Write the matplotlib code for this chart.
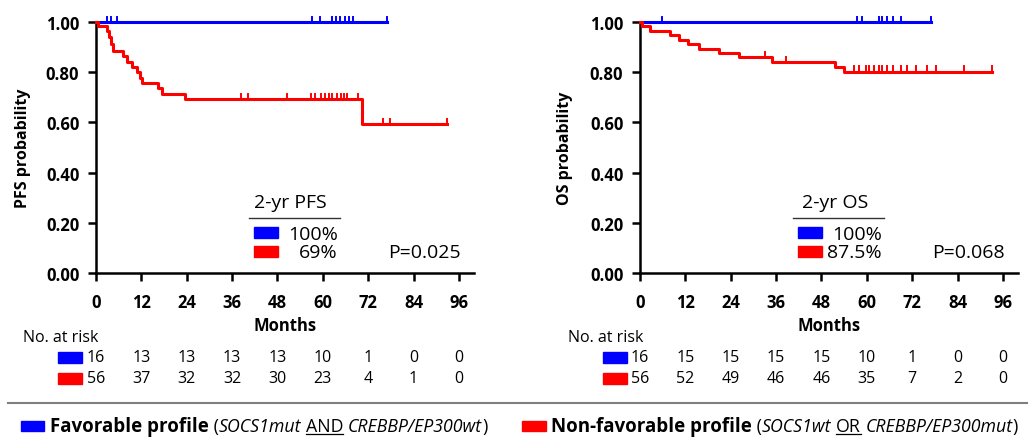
import numpy as np
import matplotlib
matplotlib.use("Agg")
import matplotlib.pyplot as plt
from matplotlib.patches import Rectangle
from matplotlib.lines import Line2D
from matplotlib.transforms import blended_transform_factory

plt.rcParams['font.family'] = ['Open Sans', 'DejaVu Sans']

BLUE = '#0000ff'
RED = '#ff0000'

# ---- data ----
xticks = [0, 12, 24, 36, 48, 60, 72, 84, 96]

# PFS
pfs_fav_t = [0, 76.9]
pfs_fav_s = [1.0, 1.0]
pfs_fav_cens = [3.0, 4.0, 5.5, 57.2, 59.3, 62.5, 63.6, 64.6, 65.9, 66.8, 68.1, 76.9]

pfs_non_t = [0, 0.6, 2.8, 3.4, 4.0, 4.6, 7.2, 8.1, 9.4, 10.8, 11.6, 12.1, 16.5, 17.4, 23.5, 70.3, 92.8]
pfs_non_s = [1.0, 0.982, 0.964, 0.94, 0.91, 0.885, 0.865, 0.84, 0.82, 0.80, 0.775, 0.755, 0.735, 0.713, 0.693, 0.594, 0.594]
pfs_non_cens = [38.4, 40.3, 50.4, 57.0, 58.0, 59.4, 60.7, 61.6, 62.5, 63.8, 64.7, 65.6, 66.5, 69.2,
                76.0, 77.9, 92.8]

# OS
os_fav_t = [0, 77.1]
os_fav_s = [1.0, 1.0]
os_fav_cens = [5.7, 57.5, 58.8, 63.2, 64.1, 65.4, 66.8, 69.0, 77.1]

os_non_t = [0, 0.5, 2.7, 8.0, 10.2, 12.8, 15.5, 20.8, 26.1, 35.0, 51.7, 53.9, 93.0]
os_non_s = [1.0, 0.982, 0.964, 0.946, 0.926, 0.911, 0.893, 0.876, 0.859, 0.841, 0.82, 0.802, 0.802]
os_non_cens = [33.2, 38.5, 56.6, 57.9, 59.7, 60.6, 61.9, 63.2, 64.1, 65.4, 66.8, 69.0, 70.7,
               72.9, 76.0, 78.2, 85.8, 93.0]

# number at risk
pfs_risk_fav = [16, 13, 13, 13, 13, 10, 1, 0, 0]
pfs_risk_non = [56, 37, 32, 32, 30, 23, 4, 1, 0]
os_risk_fav = [16, 15, 15, 15, 15, 10, 1, 0, 0]
os_risk_non = [56, 52, 49, 46, 46, 35, 7, 2, 0]

W, H = 1035, 439
fig = plt.figure(figsize=(W / 100, H / 100), dpi=100)


def px(x, y):
    # pixel (top-left origin) -> figure fraction
    return x / W, 1 - y / H


def surv_step(ax, t, s, cens, color):
    ax.step(t, s, where='post', color=color, lw=2.2, clip_on=False, zorder=3)
    t = np.asarray(t)
    s = np.asarray(s)
    for c in cens:
        i = np.searchsorted(t, c, side='right') - 1
        y = s[max(i, 0)]
        ax.plot([c, c], [y, y + 0.02], color=color, lw=1.4, clip_on=False, zorder=3)


def km_panel(left_px, ylabel, ylab_x, fav, non, title, pct_fav, pct_non, pval):
    x0, _ = px(left_px, 0)
    ax = fig.add_axes([x0, (H - 274.3) / H, 378 / W, 251.6 / H])
    surv_step(ax, *fav, BLUE)
    surv_step(ax, *non, RED)
    ax.set_xlim(0, 100)
    ax.set_ylim(0, 1.0)
    ax.set_xticks(xticks)
    ax.set_yticks(np.arange(0, 1.01, 0.2))
    ax.set_yticklabels(['%.2f' % v for v in np.arange(0, 1.01, 0.2)])
    for s in ['top', 'right']:
        ax.spines[s].set_visible(False)
    for s in ['left', 'bottom']:
        ax.spines[s].set_linewidth(1.8)
    ax.tick_params(width=1.8, length=6, labelsize=12, pad=6)
    ax.tick_params(axis='x', pad=8)
    for lab in ax.get_xticklabels() + ax.get_yticklabels():
        lab.set_fontweight('bold')
    ax.set_xlabel('Months', fontsize=12, fontweight='bold', labelpad=4)
    ax.set_ylabel(ylabel, fontsize=11.5, fontweight='bold')
    ax.yaxis.set_label_coords(ylab_x, 0.5)

    # inset legend
    tr = ax.transAxes
    fs = 14
    ax.text(0.515, 0.285, title, transform=tr, fontsize=fs, ha='center', va='center')
    ax.plot([0.405, 0.646], [0.22, 0.22], transform=tr, color='#333333', lw=1.0, clip_on=False)
    ax.add_patch(Rectangle((0.418, 0.14), 0.064, 0.044, transform=tr, color=BLUE, clip_on=False))
    ax.add_patch(Rectangle((0.418, 0.065), 0.064, 0.044, transform=tr, color=RED, clip_on=False))
    ax.text(0.64, 0.158, pct_fav, transform=tr, fontsize=fs, ha='right', va='center')
    ax.text(0.64, 0.083, pct_non, transform=tr, fontsize=fs, ha='right', va='center')
    ax.text(0.965, 0.083, pval, transform=tr, fontsize=fs, ha='right', va='center')
    return ax


def risk_table(ax, label_x, fav_counts, non_counts):
    bt = blended_transform_factory(ax.transData, fig.transFigure)
    fx, fy = px(label_x, 338)
    fig.text(fx, fy, 'No. at risk', fontsize=11.5, ha='left', va='center')
    for row, (counts, color, ypx) in enumerate([(fav_counts, BLUE, 358), (non_counts, RED, 379)]):
        px0, py0 = px(label_x + 35, ypx + 5.5)
        fig.patches.append(Rectangle((px0, py0), 24 / W, 11 / H, transform=fig.transFigure,
                                     color=color, figure=fig))
        for xv, n in zip(xticks, counts):
            ax.text(xv, 1 - ypx / H, str(n), transform=bt, fontsize=11.5,
                    ha='center', va='center', clip_on=False)


ax1 = km_panel(96, 'PFS probability', -0.172,
               (pfs_fav_t, pfs_fav_s, pfs_fav_cens), (pfs_non_t, pfs_non_s, pfs_non_cens),
               '2-yr PFS', '100%', '69%', 'P=0.025')
ax2 = km_panel(640, 'OS probability', -0.178,
               (os_fav_t, os_fav_s, os_fav_cens), (os_non_t, os_non_s, os_non_cens),
               '2-yr OS', '100%', '87.5%', 'P=0.068')

risk_table(ax1, 23, pfs_risk_fav, pfs_risk_non)
risk_table(ax2, 568, os_risk_fav, os_risk_non)

# separator line
fig.lines.append(Line2D([8 / W, 1027 / W], [1 - 404 / H] * 2, transform=fig.transFigure,
                        color='#7f7f7f', lw=1.5, figure=fig))


# bottom legend with mixed styles
def seq_text(x_px, y_px, parts):
    renderer = fig.canvas.get_renderer()
    x = x_px
    for s, style, under in parts:
        t = fig.text(x / W, 1 - y_px / H, s, va='center', ha='left', **style)
        bb = t.get_window_extent(renderer)
        if under:
            fig.lines.append(Line2D([bb.x0 / W, bb.x1 / W], [(bb.y0 + 1.5) / H] * 2,
                                    transform=fig.transFigure, color='black', lw=0.9, figure=fig))
        x = bb.x1


reg = dict(fontsize=12.8)
ita = dict(fontsize=12.8, style='italic')
bold = dict(fontsize=13.5, fontweight='bold')

fig.patches.append(Rectangle((21 / W, 1 - 432 / H), 23 / W, 10 / H, transform=fig.transFigure,
                             color=BLUE, figure=fig))
seq_text(50, 427, [('Favorable profile', bold, False), (' (', reg, False),
                   ('SOCS1mut', ita, False), (' ', reg, False), ('AND', reg, True),
                   (' ', reg, False), ('CREBBP/EP300wt', ita, False), (')', reg, False)])

fig.patches.append(Rectangle((522 / W, 1 - 432 / H), 24 / W, 10 / H, transform=fig.transFigure,
                             color=RED, figure=fig))
seq_text(551, 427, [('Non-favorable profile', bold, False), (' (', reg, False),
                    ('SOCS1wt', ita, False), (' ', reg, False), ('OR', reg, True),
                    (' ', reg, False), ('CREBBP/EP300mut', ita, False), (')', reg, False)])

fig.savefig('out.png', dpi=100)
